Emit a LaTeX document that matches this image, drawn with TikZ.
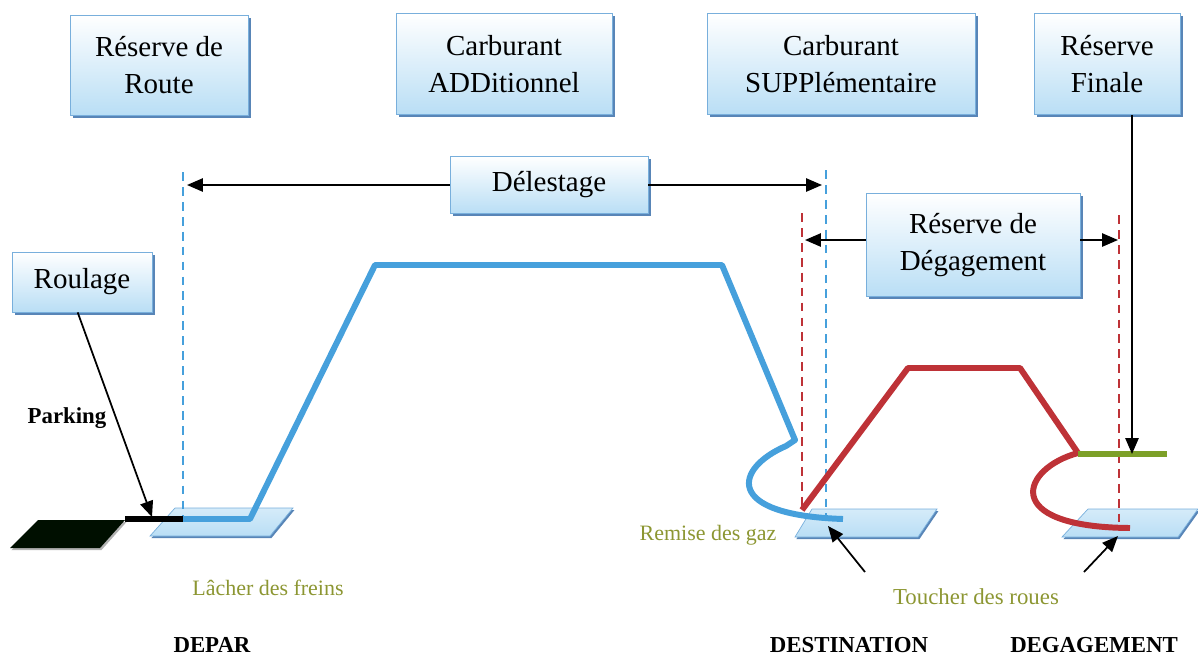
\documentclass[tikz,border=0pt]{standalone}
\usepackage{fontspec}
\setmainfont{Liberation Serif}
\usetikzlibrary{arrows.meta,shadows}
\definecolor{boxedge}{RGB}{120,175,220}
\definecolor{boxfill}{RGB}{185,222,245}
\definecolor{boxshadow}{RGB}{70,120,175}
\definecolor{flightblue}{RGB}{70,160,220}
\definecolor{altred}{RGB}{190,50,55}
\definecolor{finalgreen}{RGB}{125,160,40}
\definecolor{olivetext}{RGB}{140,150,50}
\tikzset{
  fuelbox/.style={draw=boxedge,top color=white,bottom color=boxfill,align=center,
    inner sep=0pt,font=\fontsize{16.5}{21.5}\selectfont,
    drop shadow={shadow xshift=1.6pt,shadow yshift=-1.6pt,fill=boxshadow,opacity=0.9}},
  runway/.style={draw=boxedge,top color=boxfill!60,bottom color=boxfill,
    drop shadow={shadow xshift=0.8pt,shadow yshift=-1.2pt,fill=boxshadow,opacity=0.9}},
  phase/.style={font=\fontsize{12.5}{14}\selectfont,text=olivetext},
  place/.style={font=\fontsize{13}{15}\selectfont\bfseries},
  guide/.style={line width=1pt,dash pattern=on 5pt off 3.5pt},
  pointer/.style={line width=1pt,-{Triangle[length=9pt,width=7.5pt]}},
}
\begin{document}
\begin{tikzpicture}[x=0.02cm,y=-0.02cm]
    \useasboundingbox (0,0) rectangle (1198,657);
    % fuel boxes
    \node[fuelbox,minimum width=3.56cm,minimum height=2cm] (route) at (159,65) {Réserve de\\Route};
    \node[fuelbox,minimum width=4.32cm,minimum height=2.02cm] (add) at (504,64) {Carburant\\ADDitionnel};
    \node[fuelbox,minimum width=5.36cm,minimum height=2.02cm] (supp) at (841,64) {Carburant\\SUPPlémentaire};
    \node[fuelbox,minimum width=2.92cm,minimum height=2.02cm] (finale) at (1107,64) {Réserve\\Finale};
    \node[fuelbox,minimum width=3.96cm,minimum height=1.14cm] (deles) at (549,185) {Délestage};
    \node[fuelbox,minimum width=4.28cm,minimum height=2.06cm] (degag) at (973,245) {Réserve de\\Dégagement};
    \node[fuelbox,minimum width=2.8cm,minimum height=1.2cm] (roul) at (82,282) {Roulage};
    % runways
    \fill[black!85!green!40!black,drop shadow={shadow xshift=0.8pt,shadow yshift=-1.2pt,fill=black!60}]
        (10,548) -- (38,520) -- (125,520) -- (100,548) -- cycle;
    \path[runway] (150,536) -- (175,508) -- (293,508) -- (270,536) -- cycle;
    \path[runway] (795,537) -- (812,509) -- (937,509) -- (918,537) -- cycle;
    \path[runway] (1062,537) -- (1088,509) -- (1198,509) -- (1178,537) -- cycle;
    % guide lines
    \coordinate (brk) at (183,519);
    \coordinate (dest) at (826,519);
    \coordinate (rga) at (802,510);
    \coordinate (alt) at (1119,530);
    \draw[guide,flightblue] (183,172) -- (brk);
    \draw[guide,flightblue] (826,170) -- (dest);
    \draw[guide,altred] (802,213) -- (rga);
    \draw[guide,altred] (1119,215) -- (alt);
    % profiles
    \draw[line width=3pt] (125,519) -- (brk);
    \draw[line width=3.4pt,flightblue,line join=round] (brk) -- (250,519) -- (375,265) -- (722,265)
        -- (795,440) -- (786,446) .. controls (735,468) and (722,515) .. (843,519);
    \draw[line width=3.4pt,altred,line join=round] (rga) -- (908,368) -- (1020,368)
        -- (1078,453) .. controls (1022,468) and (998,527) .. (1130,528);
    \coordinate (fuel) at (1132,454);
    \draw[line width=3.4pt,finalgreen] (1078,454) -- (1167,454);
    % arrows
    \draw[pointer] (deles.west) -- (deles.west-|187,0);
    \draw[pointer] (deles.east) -- (deles.east-|822,0);
    \draw[pointer] (degag.west|-0,240) -- (805,240);
    \draw[pointer] (degag.east|-0,240) -- (1118,240);
    \draw[pointer] (finale.south-|fuel) -- (fuel);
    \draw[pointer] (roul.south west)++(66,0) -- (152,517);
    % labels
    \node[place] (park) at (67,418) {Parking};
    \node[phase] (lacher) at (268,588) {Lâcher des freins};
    \node[phase] (remise) at (708,535) {Remise des gaz};
    \node[phase,font=\fontsize{13}{15}\selectfont] (touch) at (976,597) {Toucher des roues};
    \draw[pointer] (865,572) -- (828,526);
    \draw[pointer] (1084,572) -- (1118,536);
    \node[place] (depar) at (212,645) {DEPAR};
    \node[place] (destin) at (849,645) {DESTINATION};
    \node[place] (degn) at (1094,645) {DEGAGEMENT};
\end{tikzpicture}
\end{document}
